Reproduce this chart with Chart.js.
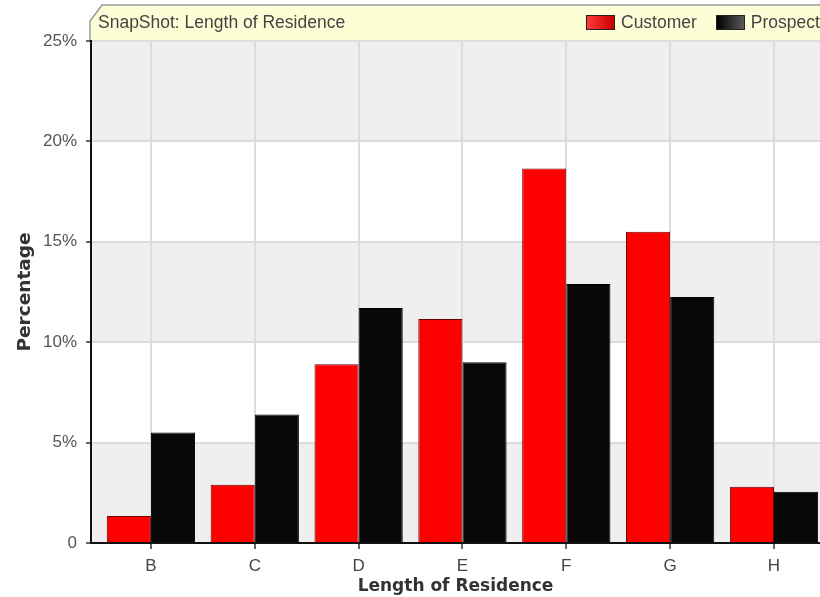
<!DOCTYPE html>
<html><head><meta charset="utf-8">
<script src="https://cdn.jsdelivr.net/npm/chart.js@4"></script>
<style>
html,body{margin:0;padding:0;background:#fff;overflow:hidden;}
#wrap{position:relative;width:820px;height:597px;overflow:hidden;}
#c{position:absolute;left:0;top:0;}
.hdr{position:absolute;font-family:"Liberation Sans",Arial,sans-serif;font-size:17.5px;color:#444;line-height:20px;white-space:nowrap;}
#legend{display:flex;align-items:center;}
.sw{display:inline-block;width:27px;height:13px;border:1px solid #222;margin-right:6px;}
.item{display:flex;align-items:center;margin-right:19px;}
</style></head>
<body><div id="wrap"><canvas id="c" width="820" height="597"></canvas>
<div class="hdr" id="title" style="left:98px;top:12px"></div>
<div class="hdr" id="legend" style="left:586px;top:12px"></div>
</div>
<script>
const categories = ['B','C','D','E','F','G','H'];
const customer = [1.35, 2.9, 8.9, 11.15, 18.65, 15.5, 2.8];
const prospect = [5.5, 6.4, 11.7, 9.0, 12.9, 12.25, 2.55];
const seriesNames = ['Customer','Prospect'];
const yTickLabels = ['0','5%','10%','15%','20%','25%'];
const chartTitle = 'SnapShot: Length of Residence';
const xTitle = 'Length of Residence';
const yTitle = 'Percentage';

const fills = ['#fe0000', '#070707'];
const borders = ['#6a0000', '#000000'];
const swatches = ['linear-gradient(to right,#ff3a3a,#c80000)', 'linear-gradient(to right,#000,#5a5a5a)'];

document.getElementById('title').textContent = chartTitle;
const lg = document.getElementById('legend');
seriesNames.forEach((n, i) => {
  const it = document.createElement('span'); it.className = 'item';
  const sw = document.createElement('span'); sw.className = 'sw'; sw.style.background = swatches[i];
  const tx = document.createElement('span'); tx.textContent = n;
  it.appendChild(sw); it.appendChild(tx); lg.appendChild(it);
});

const bgPlugin = {
  id: 'bg',
  beforeDraw(chart) {
    const {ctx, chartArea: a, scales: {y}} = chart;
    ctx.save();
    ctx.fillStyle = '#fff';
    ctx.fillRect(0, 0, chart.width, chart.height);
    ctx.beginPath();
    ctx.moveTo(a.left - 1, a.top);
    ctx.lineTo(a.left - 1, 21);
    ctx.lineTo(a.left + 11, 5);
    ctx.lineTo(chart.width + 3, 5);
    ctx.lineTo(chart.width + 3, a.top);
    ctx.closePath();
    ctx.fillStyle = '#fefed6';
    ctx.fill();
    ctx.strokeStyle = '#9a9a9a';
    ctx.lineWidth = 1.5;
    ctx.stroke();
    const t = y.ticks;
    for (let i = 0; i < t.length - 1; i++) {
      if (i % 2 === 0) {
        const y0 = y.getPixelForValue(t[i].value), y1 = y.getPixelForValue(t[i + 1].value);
        ctx.fillStyle = '#efefef';
        ctx.fillRect(a.left, y1, a.right - a.left, y0 - y1);
      }
    }
    ctx.restore();
  }
};

const ds = [customer, prospect].map((vals, i) => ({
  label: seriesNames[i],
  data: vals.map((v, k) => ({x: k, y: v})),
  backgroundColor: fills[i],
  borderColor: borders[i],
  borderWidth: 1,
  categoryPercentage: 0.85,
  barPercentage: 1
}));

new Chart(document.getElementById('c'), {
  type: 'bar',
  data: {datasets: ds},
  plugins: [bgPlugin],
  options: {
    responsive: false,
    animation: false,
    layout: {padding: {top: 41, left: 0, right: 0, bottom: 0}},
    plugins: {legend: {display: false}, title: {display: false}, tooltip: {enabled: false}},
    scales: {
      x: {
        type: 'linear',
        offset: false,
        min: -0.577,
        max: 6.443,
        afterFit: s => { s.height = 54; },
        ticks: {
          stepSize: 1,
          includeBounds: false,
          autoSkip: false,
          maxRotation: 0,
          padding: 7,
          color: '#444',
          font: {family: '"Liberation Sans", Arial, sans-serif', size: 17},
          callback: v => categories[v] ?? ''
        },
        grid: {offset: false, color: '#dcdcdc', lineWidth: 2, tickColor: '#333', tickLength: 6, tickWidth: 1.5},
        border: {color: '#111', width: 2},
        title: {display: true, text: xTitle, color: '#333', padding: {top: 0, bottom: 0},
          font: {family: '"DejaVu Sans", Verdana, sans-serif', size: 17, weight: 'bold'}}
      },
      y: {
        min: 0,
        max: 25,
        afterFit: s => { s.width = 91; },
        ticks: {
          stepSize: 5,
          padding: 9,
          color: '#555',
          font: {family: '"Liberation Sans", Arial, sans-serif', size: 17},
          callback: (v, i) => yTickLabels[i]
        },
        grid: {color: '#dcdcdc', lineWidth: 2, tickColor: '#333', tickLength: 5, tickWidth: 1.5},
        border: {color: '#111', width: 2},
        title: {display: true, text: yTitle, color: '#333', padding: {top: 14, bottom: 0},
          font: {family: '"DejaVu Sans", Verdana, sans-serif', size: 18.5, weight: 'bold'}}
      }
    }
  }
});
</script>
</body></html>
